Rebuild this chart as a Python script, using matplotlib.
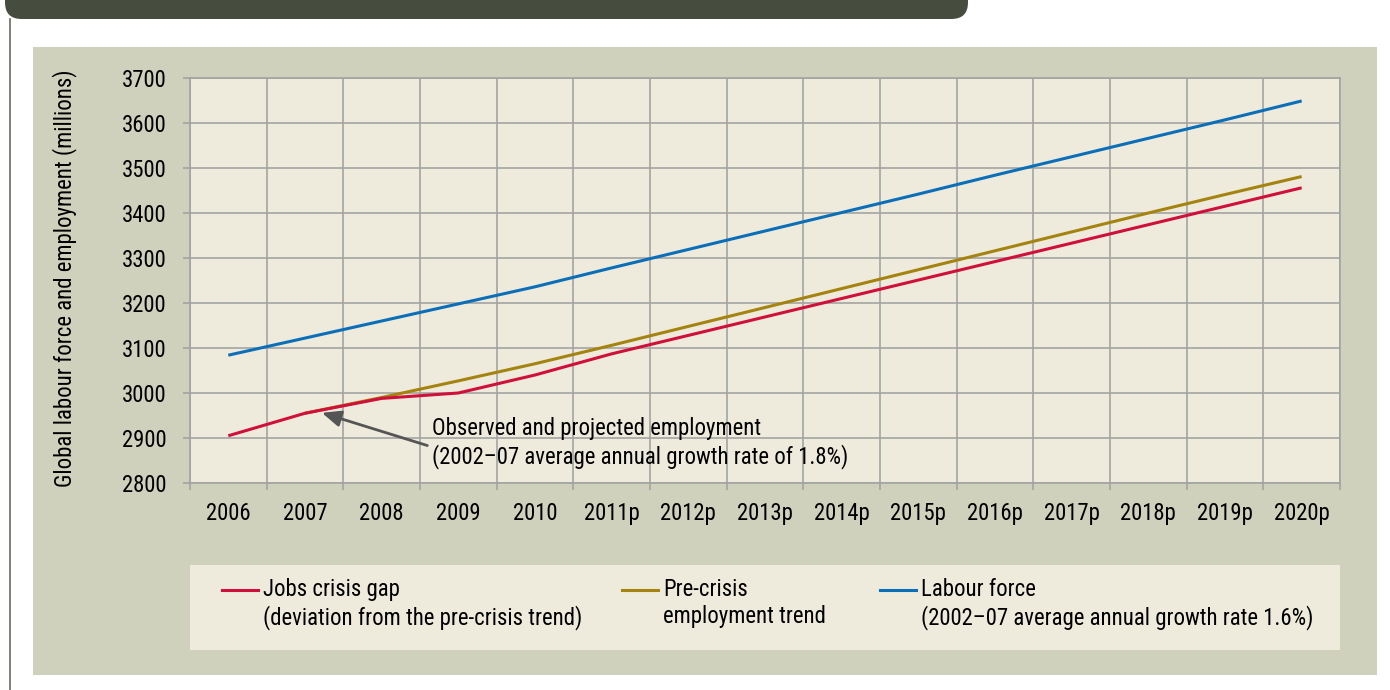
import numpy as np
import matplotlib
matplotlib.use("Agg")
import matplotlib.pyplot as plt
from matplotlib.patches import FancyBboxPatch, Rectangle
from matplotlib.lines import Line2D

plt.rcParams['font.family'] = ['Roboto Condensed', 'Liberation Sans', 'DejaVu Sans']

# data (millions)
years = ['2006', '2007', '2008', '2009', '2010', '2011p', '2012p', '2013p',
         '2014p', '2015p', '2016p', '2017p', '2018p', '2019p', '2020p']
labour_force = [3084, 3122, 3160, 3198, 3236, 3278, 3319, 3360, 3401, 3442,
                3484, 3525, 3566, 3607, 3649]
pre_crisis = [np.nan, 2955, 2990, 3027, 3065, 3106, 3148, 3190, 3232, 3274,
              3316, 3358, 3400, 3441, 3481]
employment = [2905, 2955, 2988, 3000, 3040, 3087, 3128, 3169, 3210, 3251,
              3292, 3333, 3374, 3415, 3456]

W, H = 1390, 690
FS = 16.4
PANEL = '#d0d1bc'
CREAM = '#efebdc'
GRID = '#a3a3a3'
RED = '#d0103a'
GOLD = '#a4830f'
BLUE = '#0a6fb8'


def box(x0, y0, x1, y1):
    # pixel box (top-left origin) -> figure fraction rect
    return [x0 / W, 1 - y1 / H, (x1 - x0) / W, (y1 - y0) / H]


fig = plt.figure(figsize=(W / 100, H / 100), dpi=100)
fig.patch.set_facecolor('white')

# header bar + left rule
fig.patches.append(FancyBboxPatch((5 / W, 1 - 19 / H), 963 / W, 40 / H,
                                  boxstyle='round,pad=0,rounding_size=0.012',
                                  transform=fig.transFigure, facecolor='#464d3e',
                                  edgecolor='none', mutation_aspect=2.0, zorder=-5))
fig.lines.append(Line2D([10 / W, 10 / W], [0, 1 - 19 / H], transform=fig.transFigure,
                        color='#6b6b60', lw=1.2, zorder=-5))

# background panel
fig.patches.append(Rectangle((33 / W, 1 - 675 / H), (1377 - 33) / W, (675 - 47) / H,
                             transform=fig.transFigure, facecolor=PANEL, edgecolor='none',
                             zorder=-5))

# legend box
fig.patches.append(Rectangle((190 / W, 1 - 650 / H), (1340 - 190) / W, (650 - 565) / H,
                             transform=fig.transFigure, facecolor=CREAM, edgecolor='none',
                             zorder=-4))

ax = fig.add_axes(box(190, 78, 1340, 483))
ax.set_facecolor(CREAM)
x = np.arange(len(years))
ax.plot(x, labour_force, color=BLUE, lw=2.2, solid_capstyle='butt')
ax.plot(x, pre_crisis, color=GOLD, lw=2.2, solid_capstyle='butt')
ax.plot(x, employment, color=RED, lw=2.2, solid_capstyle='butt')

ax.set_xlim(-0.5, len(years) - 0.5)
ax.set_ylim(2800, 3700)
ax.set_yticks(range(2800, 3701, 100))
ax.set_xticks(x)
ax.set_xticklabels(years)
ax.set_xticks(np.arange(-0.5, len(years)), minor=True)
ax.tick_params(axis='x', which='major', length=0, pad=14, labelsize=FS)
ax.tick_params(axis='x', which='minor', length=5, color=GRID, width=1.2)
ax.tick_params(axis='y', length=5, color=GRID, width=1.2, pad=12, labelsize=FS)
ax.grid(axis='y', color=GRID, lw=1.2)
ax.grid(axis='x', which='minor', color=GRID, lw=1.2)
ax.set_axisbelow(True)
for s in ax.spines.values():
    s.set_color(GRID)
    s.set_linewidth(1.2)

fig.text(65 / W, 1 - 278 / H, 'Global labour force and employment (millions)',
         fontsize=FS, rotation=90, ha='center', va='center')

ax.annotate('Observed and projected employment\n(2002\u201307 average annual growth rate of 1.8%)',
            xy=(1.22, 2956), xytext=(2.65, 2889), fontsize=FS, va='center', ha='left',
            linespacing=1.2,
            arrowprops=dict(arrowstyle='-|>,head_length=0.7,head_width=0.3', color='#555555',
                            lw=2, shrinkA=0, shrinkB=0, relpos=(-0.01, 0.45)))

# legend entries
items = [(222, RED, 'Jobs crisis gap\n(deviation from the pre-crisis trend)'),
         (622, GOLD, 'Pre-crisis\nemployment trend'),
         (880, BLUE, 'Labour force\n(2002\u201307 average annual growth rate 1.6%)')]
for px, col, label in items:
    fig.lines.append(Line2D([px / W, (px + 36) / W], [1 - 590 / H] * 2,
                            transform=fig.transFigure, color=col, lw=2.2))
    fig.text((px + 41) / W, 1 - 578 / H, label, fontsize=FS, va='top', ha='left',
             linespacing=1.2)

fig.savefig('out.png', dpi=100)
